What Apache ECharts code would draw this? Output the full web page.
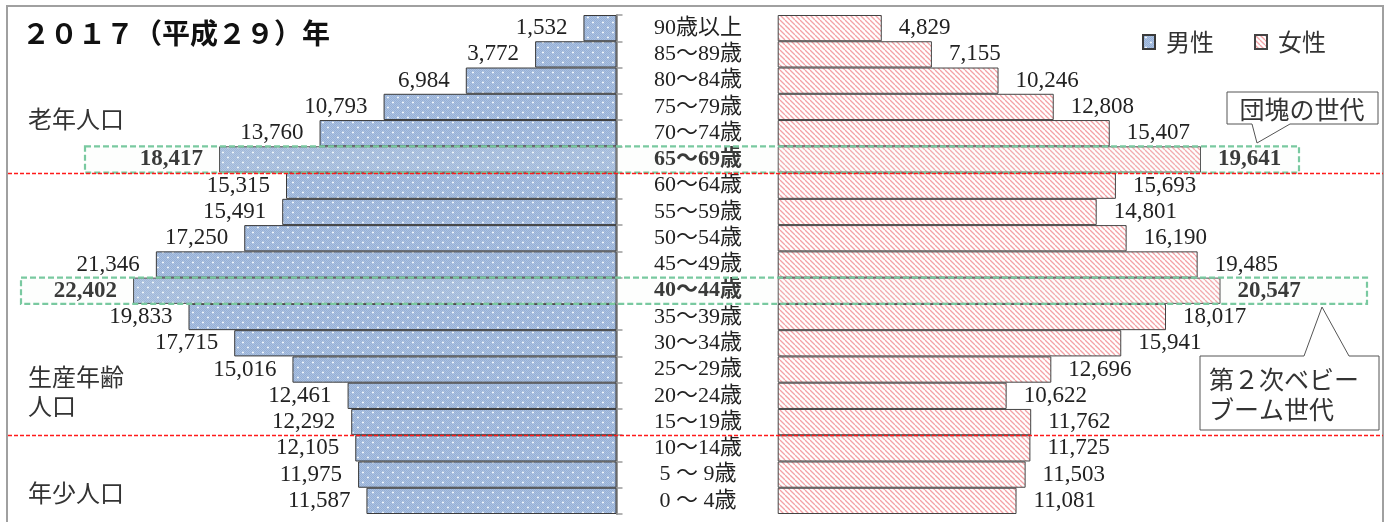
<!DOCTYPE html>
<html>
<head>
<meta charset="utf-8">
<script src="https://cdn.jsdelivr.net/npm/echarts@6/dist/echarts.min.js"></script>
<style>
  html, body { margin: 0; padding: 0; background: #fff; }
  #chart { width: 1391px; height: 522px; }
</style>
</head>
<body>
<div id="chart"></div>
<script>
// Age groups, oldest first (top row to bottom row)
const ageGroups = [
  '90歳以上', '85～89歳', '80～84歳', '75～79歳', '70～74歳', '65～69歳',
  '60～64歳', '55～59歳', '50～54歳', '45～49歳', '40～44歳', '35～39歳',
  '30～34歳', '25～29歳', '20～24歳', '15～19歳', '10～14歳', '5 ～ 9歳', '0 ～ 4歳'
];
// Population by age group (persons)
const male = [
  1532, 3772, 6984, 10793, 13760, 18417,
  15315, 15491, 17250, 21346, 22402, 19833,
  17715, 15016, 12461, 12292, 12105, 11975, 11587
];
const female = [
  4829, 7155, 10246, 12808, 15407, 19641,
  15693, 14801, 16190, 19485, 20547, 18017,
  15941, 12696, 10622, 11762, 11725, 11503, 11081
];
const seriesNames = ['男性', '女性'];
const titleText = '２０１７（平成２９）年';
// Highlighted generations: row and callout text
const highlightGroups = ['65～69歳', '40～44歳'];
const calloutTexts = [['団塊の世代'], ['第２次ベビー', 'ブーム世代']];
// Population bands and the first row below each band boundary
const bandLabels = [['老年人口'], ['生産年齢', '人口'], ['年少人口']];
const bandStarts = ['60～64歳', '10～14歳'];

const SERIF = "'Liberation Serif', 'DejaVu Serif', 'Noto Sans CJK JP', serif";
const GOTHIC = "'Noto Sans CJK JP', 'Noto Sans', sans-serif";

// Fill textures
function malePattern() {
  const c = document.createElement('canvas');
  c.width = 10; c.height = 10;
  const g = c.getContext('2d');
  g.fillStyle = '#a9c1e2';
  g.fillRect(0, 0, 10, 10);
  g.fillStyle = 'rgba(120,145,190,0.35)';
  for (let y = 0; y < 10; y++) for (let x = 0; x < 10; x++) if ((x + y) % 2 === 0) g.fillRect(x, y, 1, 1);
  g.fillStyle = 'rgba(245,250,255,0.9)';
  g.fillRect(2, 2, 2, 1); g.fillRect(2.5, 1.5, 1, 2);
  g.fillRect(7, 7, 2, 1); g.fillRect(7.5, 6.5, 1, 2);
  return c;
}
function femalePattern() {
  const s = 5;
  const c = document.createElement('canvas');
  c.width = s; c.height = s;
  const g = c.getContext('2d');
  g.fillStyle = '#ffffff';
  g.fillRect(0, 0, s, s);
  g.strokeStyle = '#f4a2a6';
  g.lineWidth = 1.3;
  for (const k of [-s, 0, s]) {
    g.beginPath(); g.moveTo(k, 0); g.lineTo(k + s, s); g.stroke();
  }
  return c;
}
const maleFill = { image: malePattern(), repeat: 'repeat' };
const femaleFill = { image: femalePattern(), repeat: 'repeat' };

const fmt = v => v.toLocaleString('en-US');
function barData(values) {
  return values.map((v, i) => highlightGroups.includes(ageGroups[i])
    ? { value: v, label: { fontWeight: 'bold' } }
    : v);
}

const chart = echarts.init(document.getElementById('chart'), null, { renderer: 'canvas' });

const labelBase = { show: true, fontFamily: SERIF, fontSize: 23, color: '#222', formatter: p => fmt(p.value) };

chart.setOption({
  animation: false,
  backgroundColor: '#ffffff',
  legend: {
    data: seriesNames,
    left: 1137, top: 25,
    icon: 'rect', itemWidth: 12, itemHeight: 14, itemGap: 40,
    textStyle: { fontFamily: GOTHIC, fontSize: 24, color: '#333', padding: [0, 0, 0, 6] }
  },
  grid: [
    { left: 77, right: 774.5, top: 15, bottom: 8 },
    { left: 777.7, right: 74.5, top: 15, bottom: 8 }
  ],
  xAxis: [
    { gridIndex: 0, type: 'value', inverse: true, min: 0, max: 25000, show: false },
    { gridIndex: 1, type: 'value', min: 0, max: 25000, show: false }
  ],
  yAxis: [
    {
      gridIndex: 0, type: 'category', data: ageGroups, inverse: true, position: 'right',
      axisLine: { show: true, lineStyle: { color: '#9a9a9a', width: 2 } },
      axisTick: { show: true, length: 6, interval: 0, lineStyle: { color: '#9a9a9a', width: 1.5 } },
      axisLabel: {
        interval: 0, margin: 81.5, align: 'center', fontFamily: SERIF, fontSize: 22, color: '#222',
        formatter: v => highlightGroups.includes(v) ? '{b|' + v + '}' : v,
        rich: { b: { fontFamily: SERIF, fontSize: 22, color: '#222', fontWeight: 'bold' } }
      }
    },
    {
      gridIndex: 1, type: 'category', data: ageGroups, inverse: true,
      axisLine: { show: false }, axisTick: { show: false }, axisLabel: { show: false }
    }
  ],
  series: [
    {
      name: seriesNames[0], type: 'bar', xAxisIndex: 0, yAxisIndex: 0,
      data: barData(male), barCategoryGap: '0%',
      itemStyle: { color: maleFill, borderColor: '#3a3a3a', borderWidth: 1 },
      label: Object.assign({ position: 'left', distance: 16 }, labelBase)
    },
    {
      name: seriesNames[1], type: 'bar', xAxisIndex: 1, yAxisIndex: 1,
      data: barData(female), barCategoryGap: '0%',
      itemStyle: { color: femaleFill, borderColor: '#444', borderWidth: 1 },
      label: Object.assign({ position: 'right', distance: 17 }, labelBase)
    }
  ]
});

// Overlay: frame, title, band labels, boundaries, highlight boxes and callouts
const rowH = 499 / ageGroups.length;
const rowTop = name => chart.convertToPixel({ yAxisIndex: 0 }, name) - rowH / 2;

const g = [];
g.push({ type: 'rect', z: 50, shape: { x: 7, y: 6, width: 1376, height: 530 },
  style: { fill: null, stroke: '#a0a0a0', lineWidth: 2 } });
g.push({ type: 'text', z: 60, x: 22, y: 33,
  style: { text: titleText, font: 'bold 28px ' + GOTHIC, fill: '#111', align: 'left', verticalAlign: 'middle' } });

// band labels
const bandY = [[119], [377, 406], [493]];
bandLabels.forEach((lines, i) => lines.forEach((t, j) => {
  g.push({ type: 'text', z: 60, x: 28, y: bandY[i][j],
    style: { text: t, font: '24px ' + GOTHIC, fill: '#333', align: 'left', verticalAlign: 'middle' } });
}));

// band boundaries
bandStarts.forEach(name => {
  const y = Math.round(rowTop(name)) + 0.5;
  g.push({ type: 'line', z: 57, shape: { x1: 8, y1: y, x2: 1383, y2: y },
    style: { stroke: '#ff1a1a', lineWidth: 1.3, lineDash: [4, 2] } });
});

// highlight boxes
const boxX = [[85, 1299], [21, 1367]];
highlightGroups.forEach((name, i) => {
  const y = rowTop(name);
  g.push({ type: 'rect', z: 56, shape: { x: boxX[i][0], y: y, width: boxX[i][1] - boxX[i][0], height: rowH },
    style: { fill: 'rgba(236,244,239,0.12)', stroke: '#79c9a0', lineWidth: 2.2, lineDash: [6, 3] } });
});

// callouts
g.push({ type: 'polygon', z: 58, shape: { points: [[1227, 92], [1378, 92], [1378, 124], [1290, 124], [1257, 143], [1252, 124], [1227, 124]] },
  style: { fill: '#fff', stroke: '#555', lineWidth: 1 } });
g.push({ type: 'text', z: 59, x: 1302, y: 109,
  style: { text: calloutTexts[0][0], font: '25px ' + GOTHIC, fill: '#333', align: 'center', verticalAlign: 'middle' } });
g.push({ type: 'polygon', z: 58, shape: { points: [[1200, 356], [1304, 356], [1322, 307], [1349, 356], [1379, 356], [1379, 430], [1200, 430]] },
  style: { fill: '#fff', stroke: '#555', lineWidth: 1 } });
calloutTexts[1].forEach((t, j) => {
  g.push({ type: 'text', z: 59, x: 1209, y: 379 + j * 30,
    style: { text: t, font: '25px ' + GOTHIC, fill: '#333', align: 'left', verticalAlign: 'middle' } });
});

chart.setOption({ graphic: { elements: g } });
</script>
</body>
</html>
